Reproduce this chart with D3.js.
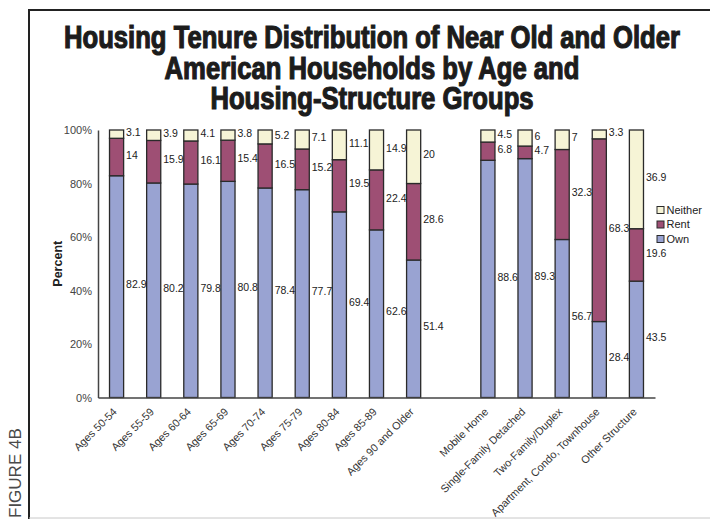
<!DOCTYPE html>
<html>
<head>
<meta charset="utf-8">
<script src="https://cdn.jsdelivr.net/npm/d3@7"></script>
<style>
  html, body { margin: 0; padding: 0; background: #fff; }
  svg { display: block; }
</style>
</head>
<body>
<svg id="chart" width="710" height="519"></svg>
<script>
// Household groups: nine age bands, then five housing-structure types
const ageGroups = ["Ages 50-54", "Ages 55-59", "Ages 60-64", "Ages 65-69", "Ages 70-74",
  "Ages 75-79", "Ages 80-84", "Ages 85-89", "Ages 90 and Older"];
const structureGroups = ["Mobile Home", "Single-Family Detached", "Two-Family/Duplex",
  "Apartment, Condo, Townhouse", "Other Structure"];

// Tenure shares (percent) in the same order as the groups above
const ownValues     = [82.9, 80.2, 79.8, 80.8, 78.4, 77.7, 69.4, 62.6, 51.4, 88.6, 89.3, 56.7, 28.4, 43.5];
const rentValues    = [14, 15.9, 16.1, 15.4, 16.5, 15.2, 19.5, 22.4, 28.6, 6.8, 4.7, 32.3, 68.3, 19.6];
const neitherValues = [3.1, 3.9, 4.1, 3.8, 5.2, 7.1, 11.1, 14.9, 20, 4.5, 6, 7, 3.3, 36.9];

const seriesKeys   = ["own", "rent", "neither"];
const seriesLabels = ["Own", "Rent", "Neither"];
const yTicks = [0, 0.2, 0.4, 0.6, 0.8, 1];

const colors = { own: "#99a3d2", rent: "#9e4f74", neither: "#f6f4d6" };

const titleLines = ["Housing Tenure Distribution of Near Old and Older",
  "American Households by Age and", "Housing-Structure Groups"];

// ---------------------------------------------------------------
const groups = [...ageGroups, ...structureGroups];
const rows = groups.map((g, i) => ({
  group: g, own: ownValues[i], rent: rentValues[i], neither: neitherValues[i]
}));

const svg = d3.select("#chart");

// frame
svg.append("line").attr("x1", 29).attr("x2", 710).attr("y1", 10).attr("y2", 10)
  .attr("stroke", "#222").attr("stroke-width", 2);
svg.append("line").attr("x1", 29).attr("x2", 29).attr("y1", 9).attr("y2", 519)
  .attr("stroke", "#222").attr("stroke-width", 2);
svg.append("line").attr("x1", 29).attr("x2", 710).attr("y1", 518).attr("y2", 518)
  .attr("stroke", "#c8c8c8").attr("stroke-width", 1);

// side caption
svg.append("text")
  .attr("transform", "translate(21,518) rotate(-90)")
  .attr("font-family", "Liberation Sans, Arial, sans-serif")
  .attr("font-size", 17)
  .attr("fill", "#4a4a4a")
  .text("FIGURE 4B");

// title: narrow bold face stretched vertically for a heavy condensed look
const titleSize = 31, titleWidth = 616;
const titleG = svg.append("g");
const titleTexts = titleG.selectAll("text").data(titleLines).join("text")
  .attr("text-anchor", "middle")
  .attr("font-family", "Liberation Sans Narrow, Arial Narrow, sans-serif")
  .attr("font-weight", "bold")
  .attr("font-size", titleSize)
  .attr("fill", "#1c1c1c")
  .attr("stroke", "#1c1c1c")
  .attr("stroke-width", 1)
  .text(d => d);
const squeeze = titleWidth / titleTexts.nodes()[0].getComputedTextLength();
titleTexts
  .attr("font-size", titleSize * squeeze)
  .attr("transform", (d, i) => `translate(372,${48 + i * 30.5}) scale(1,${1 / squeeze})`);

// scales
const plot = { left: 98, right: 655, top: 130, bottom: 397.5 };
const x = d3.scaleBand()
  .domain([...ageGroups, "__gap__", ...structureGroups])
  .range([plot.left, plot.right])
  .paddingInner(0.62)
  .paddingOuter(0.31);
const y = d3.scaleLinear().domain([0, 1]).range([plot.bottom, plot.top]);

// 100% stacked layout
const stacked = d3.stack().keys(seriesKeys).offset(d3.stackOffsetExpand)(rows);

// y axis
const yAxis = d3.axisLeft(y).tickValues(yTicks).tickFormat(d3.format(".0%")).tickSize(0).tickPadding(6);
const yAxisG = svg.append("g").attr("transform", `translate(${plot.left},0)`).call(yAxis);
yAxisG.select(".domain").attr("stroke", "#444").attr("stroke-width", 1.5);
yAxisG.selectAll("text")
  .attr("font-family", "Liberation Sans, Arial, sans-serif")
  .attr("font-size", 11).attr("fill", "#444");

svg.append("text")
  .attr("transform", `translate(62,${(plot.top + plot.bottom) / 2}) rotate(-90)`)
  .attr("text-anchor", "middle")
  .attr("font-family", "Liberation Sans, Arial, sans-serif")
  .attr("font-weight", "bold")
  .attr("font-size", 12.5)
  .attr("fill", "#222")
  .text("Percent");

// bars
const layers = svg.append("g").selectAll("g").data(stacked).join("g")
  .attr("fill", d => colors[d.key]);
layers.selectAll("rect").data(d => d).join("rect")
  .attr("x", d => x(d.data.group))
  .attr("width", x.bandwidth())
  .attr("y", d => y(d[1]))
  .attr("height", d => y(d[0]) - y(d[1]))
  .attr("stroke", "#2a2a2a")
  .attr("stroke-width", 1.3);

// value labels beside each segment
const labelG = svg.append("g")
  .attr("font-family", "Liberation Sans Narrow, Arial Narrow, sans-serif")
  .attr("font-size", 10.5)
  .attr("fill", "#222");
stacked.forEach(layer => {
  labelG.selectAll(null).data(layer).join("text")
    .attr("x", d => x(d.data.group) + x.bandwidth() + 2.5)
    .attr("y", d => (y(d[0]) + y(d[1])) / 2 - 2)
    .attr("dy", "0.35em")
    .text(d => String(d.data[layer.key]));
});

// x axis
const xAxis = d3.axisBottom(x).tickSize(0).tickFormat(d => d === "__gap__" ? "" : d);
const xAxisG = svg.append("g").attr("transform", `translate(0,${plot.bottom})`).call(xAxis);
xAxisG.select(".domain").attr("stroke", "#444").attr("stroke-width", 1.5);
xAxisG.selectAll(".tick text")
  .attr("font-family", "Liberation Sans, Arial, sans-serif")
  .attr("font-size", 10.8)
  .attr("fill", "#333")
  .attr("text-anchor", "end")
  .attr("transform", "translate(1,15) rotate(-45)")
  .attr("x", 0).attr("y", 0).attr("dy", 0);

// legend
const legendItems = seriesKeys.slice().reverse();
const legend = svg.append("g").attr("transform", "translate(657,210)");
const li = legend.selectAll("g").data(legendItems).join("g")
  .attr("transform", (d, i) => `translate(0,${i * 14.5})`);
li.append("rect").attr("x", 0).attr("y", -3.5).attr("width", 7).attr("height", 7)
  .attr("fill", d => colors[d]).attr("stroke", "#2a2a2a").attr("stroke-width", 1);
li.append("text").attr("x", 9.5).attr("y", 0).attr("dy", "0.35em")
  .attr("font-family", "Liberation Sans, Arial, sans-serif")
  .attr("font-size", 11).attr("fill", "#222")
  .text(d => seriesLabels[seriesKeys.indexOf(d)]);
</script>
</body>
</html>
